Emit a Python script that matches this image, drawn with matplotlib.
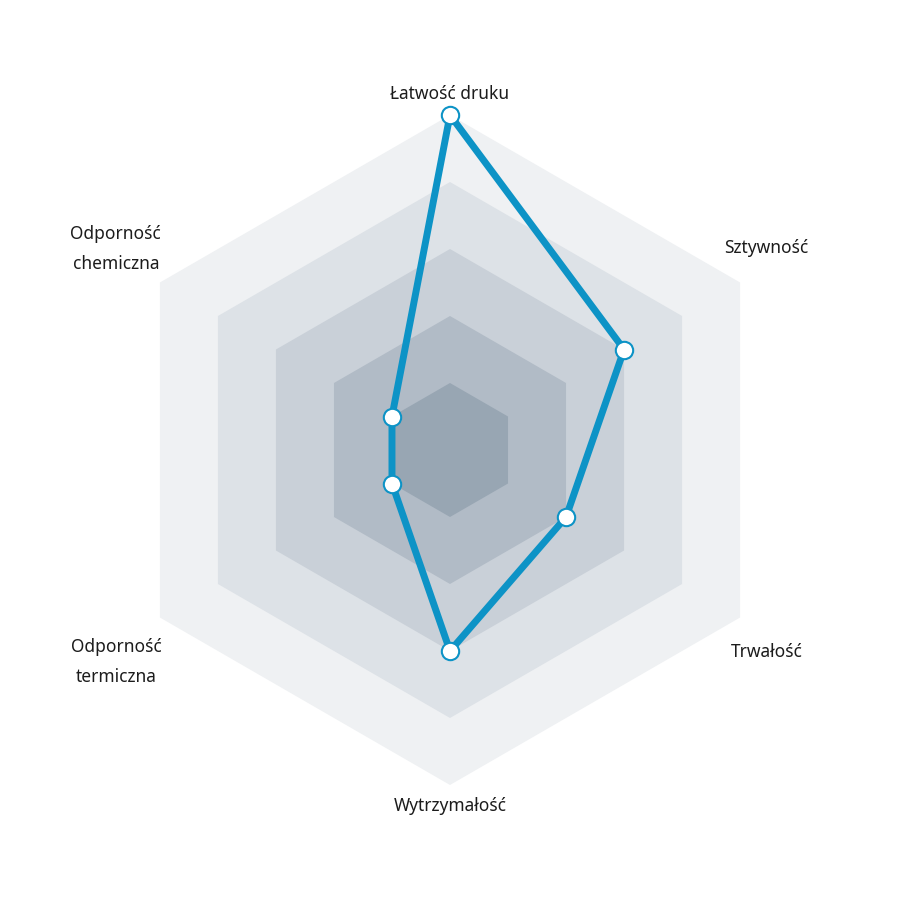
import numpy as np
import matplotlib.pyplot as plt

# categories clockwise starting from the top
labels = ['Łatwość druku', 'Sztywność', 'Trwałość', 'Wytrzymałość',
          'Odporność\ntermiczna', 'Odporność\nchemiczna']
values = [5, 3, 2, 3, 1, 1]
levels = [5, 4, 3, 2, 1]
level_colors = ['#eff1f3', '#dde2e7', '#c9d0d8', '#b1bbc6', '#98a6b3']

line_color = '#0d93c6'

angles = np.deg2rad(90 - 60 * np.arange(len(labels)))

fig = plt.figure(figsize=(9, 9), dpi=100)
ax = fig.add_axes([0, 0, 1, 1])
lim = 450 / 67
ax.set_xlim(-lim, lim)
ax.set_ylim(-lim, lim)
ax.set_aspect('equal')
ax.axis('off')

# background hexagons
for lvl, col in zip(levels, level_colors):
    hx = lvl * np.cos(angles)
    hy = lvl * np.sin(angles)
    ax.fill(hx, hy, color=col, lw=0, zorder=1)

# data polygon
vx = np.array(values) * np.cos(angles)
vy = np.array(values) * np.sin(angles)
ax.plot(np.append(vx, vx[0]), np.append(vy, vy[0]), color=line_color,
        lw=5, solid_joinstyle='miter', zorder=3)
ax.plot(vx, vy, 'o', ms=12.5, mfc='white', mec=line_color, mew=1.5, zorder=4)

# labels (radius / angle in degrees)
label_r = [5.32, 5.6, 5.6, 5.32, 5.9, 5.82]
label_ang = [90, 32.5, -32.5, -90, -147.6, 149]
for lab, r, a in zip(labels, label_r, label_ang):
    ax.text(r * np.cos(np.deg2rad(a)), r * np.sin(np.deg2rad(a)), lab,
            ha='center', va='center', fontsize=12.5, color='#1c1c1c',
            family='Noto Sans', linespacing=1.9)

fig.savefig('out.png', dpi=100, facecolor='white')
